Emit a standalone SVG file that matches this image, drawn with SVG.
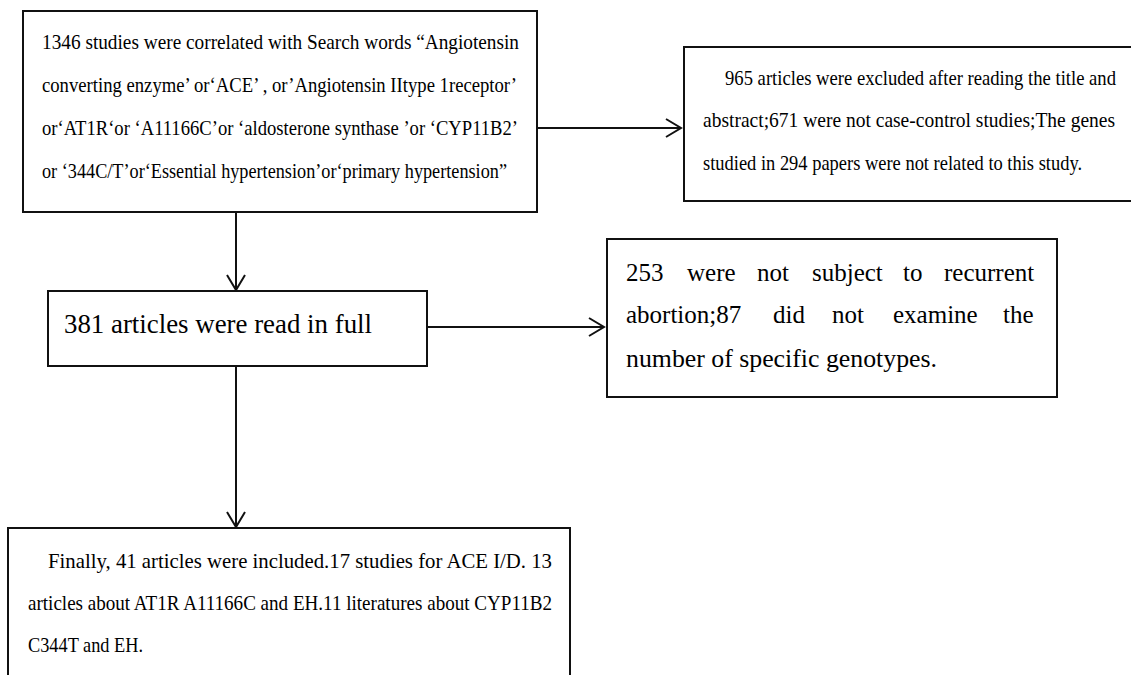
<svg xmlns="http://www.w3.org/2000/svg" width="1131" height="675" viewBox="0 0 1131 675">
<style>
.box{fill:#fff;stroke:#111;stroke-width:2}
.t{font-family:"Liberation Serif","Times New Roman",serif;fill:#000}
.s21{font-size:21px}
.s25{font-size:25px}
.s27{font-size:27px}
.conn{stroke:#111;stroke-width:2;fill:none}
</style>
<defs>
<marker id="arr" markerUnits="userSpaceOnUse" markerWidth="20" markerHeight="24" viewBox="-16 -12 20 24" refX="0" refY="0" orient="auto">
<path d="M-15,-9 L0,0 L-15,9" fill="none" stroke="#111" stroke-width="2"/>
</marker>
</defs>
<rect width="1131" height="675" fill="#fff"/>
<g id="connectors">
<line class="conn" x1="537" y1="128" x2="681" y2="128" marker-end="url(#arr)"/>
<line class="conn" x1="236" y1="212" x2="236" y2="290" marker-end="url(#arr)"/>
<line class="conn" x1="427" y1="327" x2="604" y2="327" marker-end="url(#arr)"/>
<line class="conn" x1="236" y1="366" x2="236" y2="527" marker-end="url(#arr)"/>
</g>
<g id="search">
<rect class="box" x="23" y="11" width="514" height="201"/>
<text class="t s21" x="42" y="49" textLength="477" lengthAdjust="spacingAndGlyphs">1346 studies were correlated with Search words “Angiotensin</text>
<text class="t s21" x="42" y="92" textLength="475" lengthAdjust="spacingAndGlyphs">converting enzyme’ or‘ACE’ , or’Angiotensin  IItype 1receptor’</text>
<text class="t s21" x="42" y="135" textLength="476" lengthAdjust="spacingAndGlyphs">or‘AT1R‘or ‘A11166C’or ‘aldosterone synthase ’or ‘CYP11B2’</text>
<text class="t s21" x="42" y="178" textLength="465" lengthAdjust="spacingAndGlyphs">or ‘344C/T’or‘Essential hypertension’or‘primary hypertension”</text>
</g>
<g id="excluded1">
<path class="box" d="M1131,47 H684 V201 H1131"/>
<g transform="scale(0.88,1)">
<text class="t s21" x="823.9" y="85" textLength="444.3" lengthAdjust="spacingAndGlyphs">965 articles were excluded after reading the title and</text>
<text class="t s21" x="798.9" y="127" textLength="468.2" lengthAdjust="spacingAndGlyphs">abstract;671 were not case-control studies;The genes</text>
<text class="t s21" x="798.9" y="170" textLength="430.7" lengthAdjust="spacingAndGlyphs">studied in 294 papers were not related to this study.</text>
</g>
</g>
<g id="fulltext">
<rect class="box" x="48" y="291" width="379" height="75"/>
<text class="t s27" x="64" y="333" textLength="308" lengthAdjust="spacingAndGlyphs">381 articles were read in full</text>
</g>
<g id="excluded2">
<rect class="box" x="607" y="239" width="450" height="158"/>
<text class="t s25" y="281"><tspan x="626">253</tspan><tspan x="687">were</tspan><tspan x="757">not</tspan><tspan x="812">subject</tspan><tspan x="903">to</tspan><tspan x="944">recurrent</tspan></text>
<text class="t s25" y="323"><tspan x="626">abortion;87</tspan><tspan x="773">did</tspan><tspan x="832">not</tspan><tspan x="893">examine</tspan><tspan x="1003">the</tspan></text>
<text class="t s25" x="626" y="367" textLength="311" lengthAdjust="spacingAndGlyphs">number of specific genotypes.</text>
</g>
<g id="included">
<path class="box" d="M8,676 V528 H570 V676"/>
<text class="t s21" x="48" y="568" textLength="504" lengthAdjust="spacingAndGlyphs">Finally, 41 articles were included.17 studies for ACE I/D. 13</text>
<text class="t s21" x="28" y="610" textLength="524" lengthAdjust="spacingAndGlyphs">articles about AT1R A11166C and EH.11 literatures about CYP11B2</text>
<text class="t s21" x="28" y="652" textLength="115" lengthAdjust="spacingAndGlyphs">C344T and EH.</text>
</g>
</svg>
